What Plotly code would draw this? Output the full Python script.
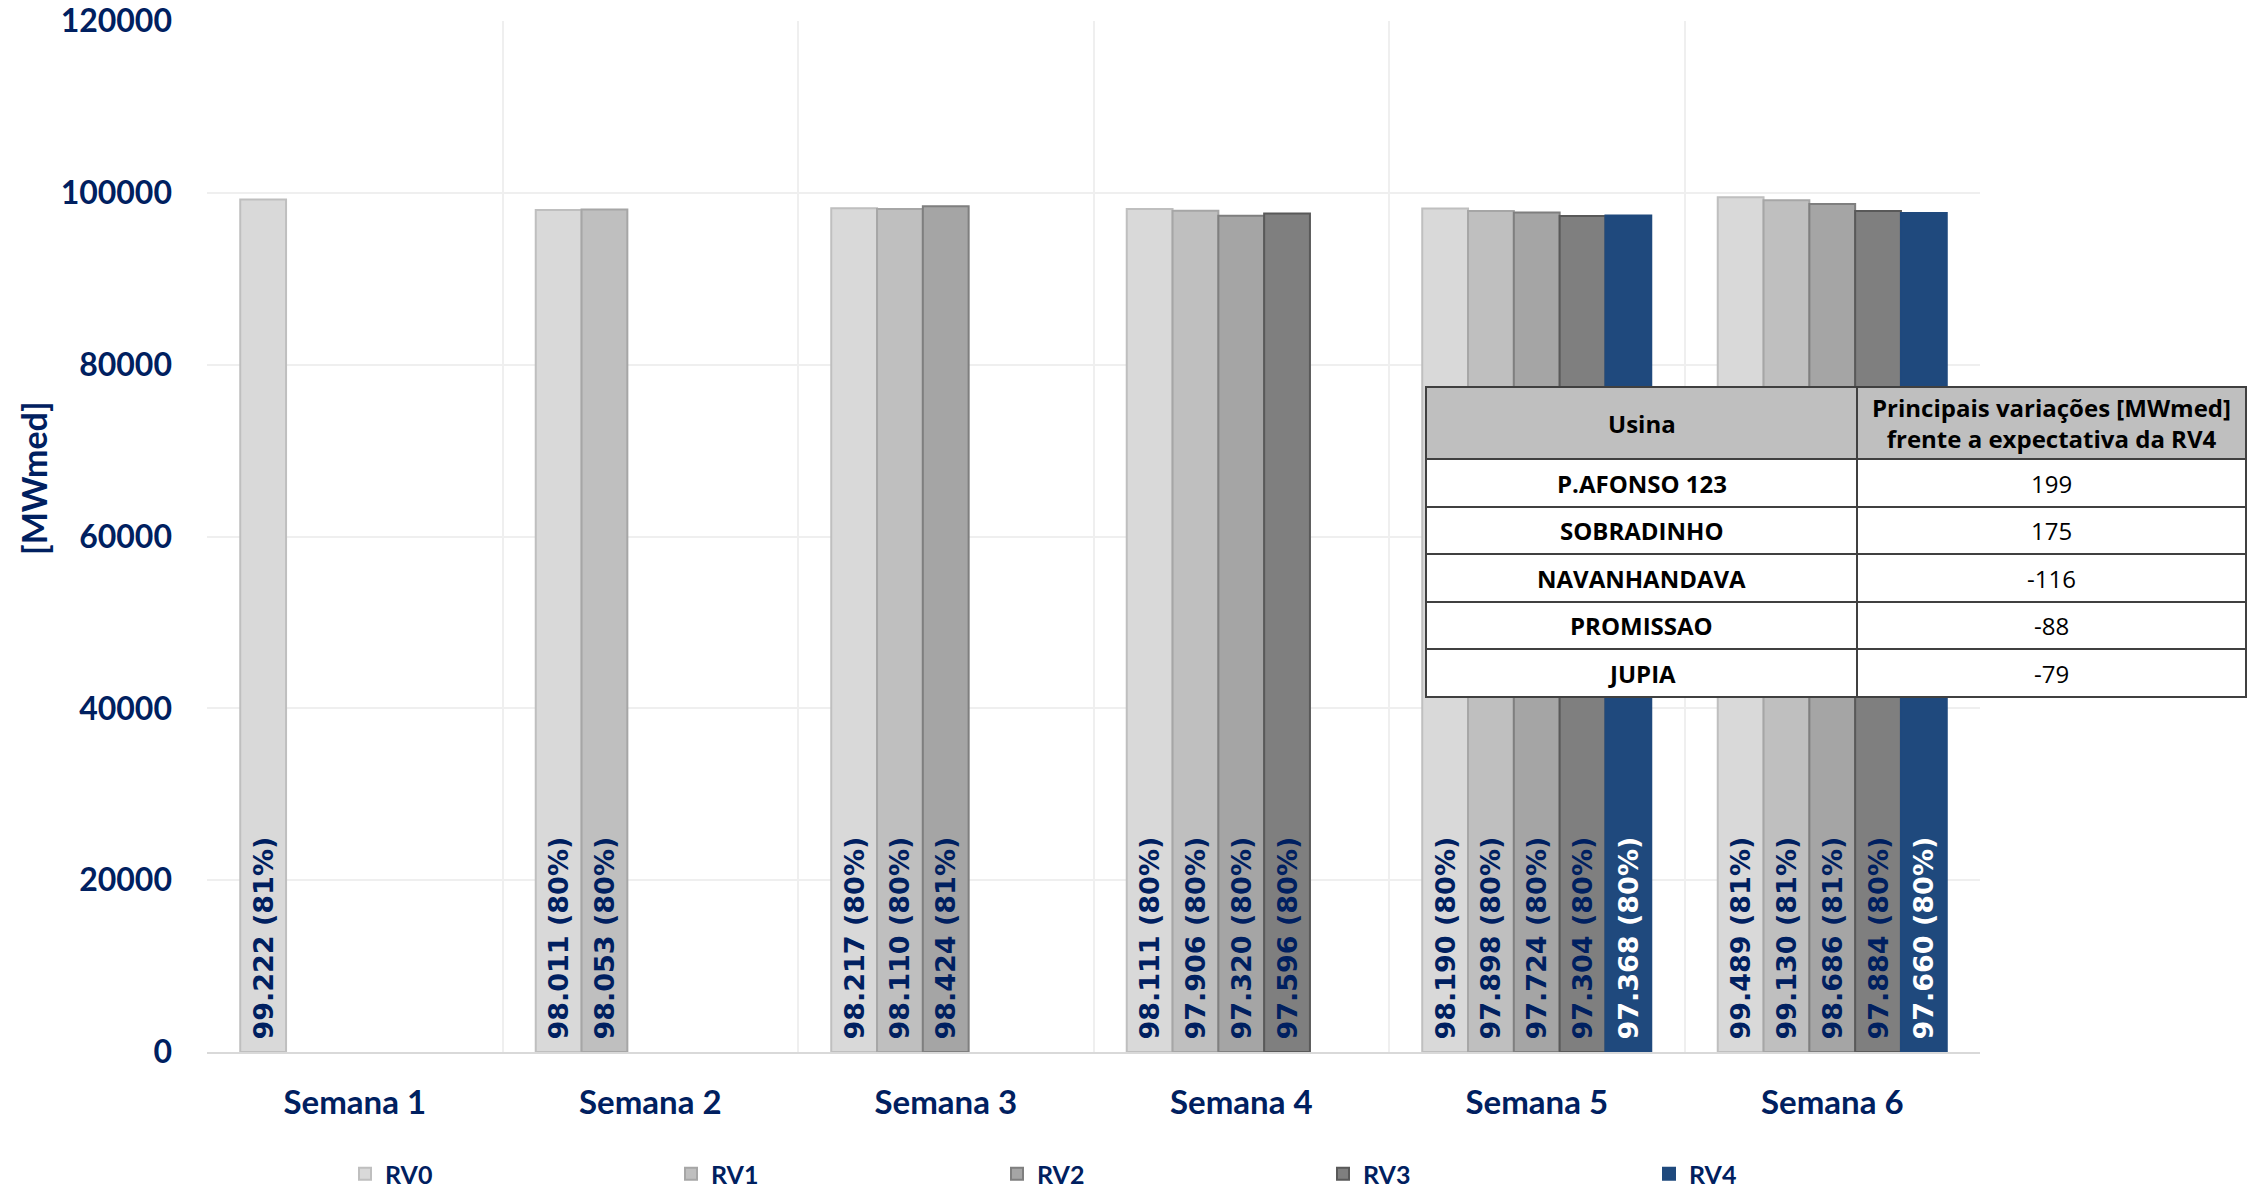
import plotly.graph_objects as go

weeks = ["Semana 1", "Semana 2", "Semana 3", "Semana 4", "Semana 5", "Semana 6"]
series_names = ["RV0", "RV1", "RV2", "RV3", "RV4"]

rv0 = [99222, 98011, 98217, 98111, 98190, 99489]
rv0_pct = [81, 80, 80, 80, 80, 81]
rv1 = [None, 98053, 98110, 97906, 97898, 99130]
rv1_pct = [None, 80, 80, 80, 80, 81]
rv2 = [None, None, 98424, 97320, 97724, 98686]
rv2_pct = [None, None, 81, 80, 80, 81]
rv3 = [None, None, None, 97596, 97304, 97884]
rv3_pct = [None, None, None, 80, 80, 80]
rv4 = [None, None, None, None, 97368, 97660]
rv4_pct = [None, None, None, None, 80, 80]

table_header = ["Usina", "Principais variações [MWmed]<br>frente a expectativa da RV4"]
usinas = ["P.AFONSO 123", "SOBRADINHO", "NAVANHANDAVA", "PROMISSAO", "JUPIA"]
variacoes = [199, 175, -116, -88, -79]

values = [rv0, rv1, rv2, rv3, rv4]
pcts = [rv0_pct, rv1_pct, rv2_pct, rv3_pct, rv4_pct]
fills = ["#D9D9D9", "#BFBFBF", "#A5A5A5", "#7F7F7F", "#1F497D"]
borders = ["#BFBFBF", "#A6A6A6", "#7F7F7F", "#595959", "#1F497D"]
text_colors = ["#002060", "#002060", "#002060", "#002060", "#FFFFFF"]

NAVY = "#002060"


def label(v, p):
    if v is None:
        return ""
    return f"\u00a0{v / 1000:.3f} ({p}%)"


fig = go.Figure()
for name, vals, pc, fc, bc, tc in zip(series_names, values, pcts, fills, borders, text_colors):
    fig.add_trace(go.Bar(
        name=name, x=weeks, y=vals,
        text=[label(v, p) for v, p in zip(vals, pc)],
        textposition="inside", textangle=-90, insidetextanchor="start",
        constraintext="none",
        textfont=dict(family="DejaVu Sans", size=27, color=tc, weight="bold"),
        marker=dict(color=fc, line=dict(color=bc, width=2)),
        hoverinfo="skip",
    ))

W, H = 2266, 1187
L, R, T, B = 207, 20, 21, 135
pw = W - L - R
ph = H - T - B


def px_x(x):
    return (x - L) / pw


def px_y(y):
    return 1 - (y - T) / ph


# ---- table drawn with shapes + annotations ----
tx0, tx1, tx2 = 1426, 1857, 2246
row_y = [387, 459, 507, 554, 602, 649, 697]
LINE = dict(color="#404040", width=2)
shapes = [
    dict(type="rect", xref="paper", yref="paper", layer="above",
         x0=px_x(tx0), x1=px_x(tx2), y0=px_y(row_y[1]), y1=px_y(row_y[0]),
         fillcolor="#BFBFBF", line=LINE),
    dict(type="rect", xref="paper", yref="paper", layer="above",
         x0=px_x(tx0), x1=px_x(tx2), y0=px_y(row_y[-1]), y1=px_y(row_y[1]),
         fillcolor="#FFFFFF", line=LINE),
    dict(type="line", xref="paper", yref="paper", layer="above",
         x0=px_x(tx1), x1=px_x(tx1), y0=px_y(row_y[-1]), y1=px_y(row_y[0]), line=LINE),
]
for yy in row_y[2:-1]:
    shapes.append(dict(type="line", xref="paper", yref="paper", layer="above",
                       x0=px_x(tx0), x1=px_x(tx2), y0=px_y(yy), y1=px_y(yy), line=LINE))

annotations = []
c1 = px_x((tx0 + tx1) / 2)
c2 = px_x((tx1 + tx2) / 2)
hy = px_y((row_y[0] + row_y[1]) / 2)
TFONT = "Open Sans"
annotations.append(dict(xref="paper", yref="paper", x=c1, y=hy, text="<b>%s</b>" % table_header[0],
                        showarrow=False, xanchor="center", yanchor="middle",
                        font=dict(family=TFONT, size=24, color="#000000")))
annotations.append(dict(xref="paper", yref="paper", x=c2, y=hy, text="<b>%s</b>" % table_header[1],
                        showarrow=False, xanchor="center", yanchor="middle", align="center",
                        font=dict(family=TFONT, size=24, color="#000000")))
for i, (u, v) in enumerate(zip(usinas, variacoes)):
    cy = px_y((row_y[i + 1] + row_y[i + 2]) / 2)
    annotations.append(dict(xref="paper", yref="paper", x=c1, y=cy, text="<b>%s</b>" % u,
                            showarrow=False, xanchor="center", yanchor="middle",
                            font=dict(family=TFONT, size=24, color="#000000")))
    annotations.append(dict(xref="paper", yref="paper", x=c2, y=cy, text=str(v),
                            showarrow=False, xanchor="center", yanchor="middle",
                            font=dict(family=TFONT, size=24, color="#000000")))

# y-axis title
annotations.append(dict(xref="paper", yref="paper", x=px_x(33), y=px_y(478), text="<b>[MWmed]</b>",
                        textangle=-90, showarrow=False, xanchor="center", yanchor="middle",
                        font=dict(family="Lato", size=34, color=NAVY)))

fig.update_layout(
    width=W, height=H, autosize=False,
    margin=dict(l=L, r=R, t=T, b=B, autoexpand=False),
    paper_bgcolor="white", plot_bgcolor="white",
    barmode="group", bargap=0.225, bargroupgap=0,
    font=dict(family="Lato", color=NAVY),
    showlegend=True,
    legend=dict(
        orientation="h", xref="container", yref="container",
        x=345 / W, xanchor="left", y=1 - 1174 / H, yanchor="middle",
        font=dict(family="Lato", size=25, color=NAVY, weight="bold"),
        entrywidth=281, traceorder="normal",
    ),
    xaxis=dict(
        type="category", categoryorder="array", categoryarray=weeks,
        domain=[0, px_x(1980)], automargin=False,
        showgrid=True, gridcolor="#EFEFEF", gridwidth=2, tickson="boundaries",
        ticks="", showline=True, linecolor="#D9D9D9", linewidth=2,
        tickfont=dict(family="Lato", size=33, color=NAVY, weight="bold"),
        ticklabelstandoff=20,
    ),
    yaxis=dict(
        range=[0, 120000], dtick=20000, tickformat="d", automargin=False,
        showgrid=True, gridcolor="#EFEFEF", gridwidth=2, zeroline=False,
        tickfont=dict(family="Lato", size=32, color=NAVY, weight="bold"),
        ticklabelstandoff=34,
    ),
    shapes=shapes,
    annotations=annotations,
)

fig.write_html("out.html", config={"displayModeBar": False},
               post_script="document.body.style.margin='0';document.body.style.overflow='hidden';")
